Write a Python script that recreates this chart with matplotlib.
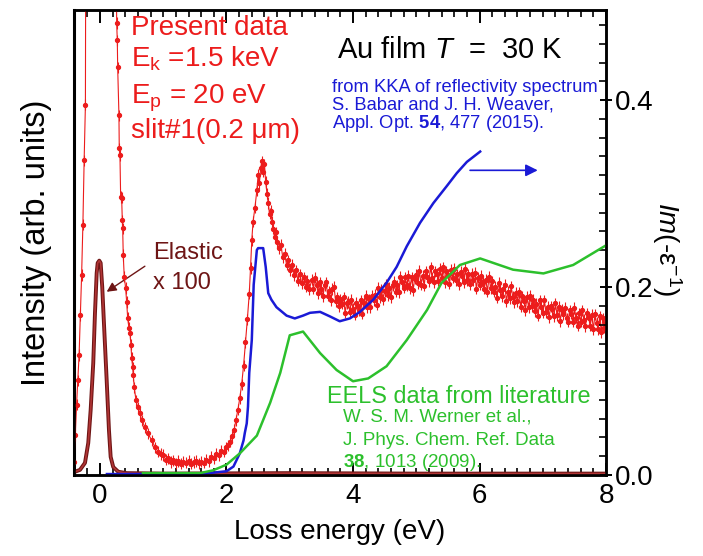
import numpy as np
import matplotlib.pyplot as plt
from matplotlib.ticker import MultipleLocator
import matplotlib.patheffects as pe

plt.rcParams['font.family'] = 'Liberation Sans'
plt.rcParams['mathtext.fontset'] = 'custom'
plt.rcParams['mathtext.rm'] = 'Liberation Sans'
plt.rcParams['mathtext.it'] = 'Liberation Sans:italic'
plt.rcParams['mathtext.bf'] = 'Liberation Sans:bold'

# ---- present data (left axis, arb. units) ----
# rising edge of the (off scale) zero-loss peak
red_e_edge = [-0.41, -0.39, -0.37, -0.35, -0.33, -0.31, -0.29, -0.27, -0.25, -0.23]
red_v_edge = [0.028, 0.086, 0.151, 0.204, 0.258, 0.344, 0.430, 0.538, 0.677, 0.796]
# top of zero-loss peak, off scale
red_e_top = [-0.21, -0.17, -0.12, -0.06, 0.0, 0.06, 0.12, 0.17, 0.21, 0.245]
red_v_top = [2.2, 6.0, 18.0, 36.0, 42.0, 36.0, 18.0, 6.0, 2.5, 1.5]
# falling tail
red_e_tail = [0.264, 0.274, 0.280, 0.300, 0.305, 0.316, 0.327, 0.343, 0.353, 0.359,
              0.368, 0.384, 0.406, 0.422, 0.438, 0.458, 0.474, 0.490, 0.501, 0.517,
              0.526, 0.542, 0.569, 0.596, 0.632, 0.659, 0.711, 0.754, 0.817, 0.870]
red_v_tail = [0.972, 0.935, 0.877, 0.774, 0.703, 0.688, 0.598, 0.596, 0.548, 0.531,
              0.473, 0.426, 0.402, 0.372, 0.338, 0.316, 0.305, 0.280, 0.252, 0.232,
              0.215, 0.189, 0.161, 0.146, 0.133, 0.118, 0.103, 0.090, 0.075, 0.060]
# valley
red_e_valley = [0.92, 0.96, 1.00, 1.04, 1.08, 1.12, 1.16, 1.20, 1.24, 1.28, 1.32, 1.36,
                1.40, 1.44, 1.48, 1.52, 1.56, 1.60, 1.64, 1.68, 1.72, 1.76, 1.80, 1.84,
                1.88, 1.92, 1.96, 2.00]
red_v_valley = [0.050, 0.045, 0.043, 0.033, 0.036, 0.028, 0.032, 0.025, 0.030, 0.024,
                0.029, 0.026, 0.031, 0.024, 0.028, 0.030, 0.025, 0.029, 0.026, 0.033,
                0.030, 0.039, 0.036, 0.045, 0.043, 0.052, 0.050, 0.060]
# plasmon peak
red_e_peak = [2.03, 2.06, 2.09, 2.12, 2.15, 2.18, 2.21, 2.24, 2.27, 2.30, 2.33, 2.36,
              2.38, 2.40, 2.42, 2.45, 2.48, 2.50, 2.52, 2.54, 2.56, 2.58, 2.60, 2.62,
              2.64, 2.66, 2.68, 2.70, 2.72, 2.74, 2.76, 2.78, 2.80, 2.83, 2.86, 2.89,
              2.92, 2.95, 2.98, 3.01, 3.04, 3.07, 3.10, 3.13, 3.16, 3.19, 3.22, 3.25,
              3.28, 3.31]
red_v_peak = [0.064, 0.072, 0.083, 0.097, 0.118, 0.140, 0.165, 0.195, 0.235, 0.285,
              0.335, 0.390, 0.445, 0.505, 0.545, 0.575, 0.612, 0.645, 0.628, 0.660,
              0.675, 0.652, 0.668, 0.630, 0.605, 0.585, 0.562, 0.568, 0.545, 0.530,
              0.512, 0.522, 0.500, 0.488, 0.495, 0.468, 0.476, 0.452, 0.462, 0.441,
              0.452, 0.430, 0.440, 0.418, 0.432, 0.412, 0.425, 0.405, 0.418, 0.400]
# broad region up to 8 eV
red_e_high = [
    3.350, 3.375, 3.400, 3.425, 3.450, 3.475, 3.500, 3.525, 3.550, 3.575,
    3.600, 3.625, 3.650, 3.675, 3.700, 3.725, 3.750, 3.775, 3.800, 3.825,
    3.850, 3.875, 3.900, 3.925, 3.950, 3.975, 4.000, 4.025, 4.050, 4.075,
    4.100, 4.125, 4.150, 4.175, 4.200, 4.225, 4.250, 4.275, 4.300, 4.325,
    4.350, 4.375, 4.400, 4.425, 4.450, 4.475, 4.500, 4.525, 4.550, 4.575,
    4.600, 4.625, 4.650, 4.675, 4.700, 4.725, 4.750, 4.775, 4.800, 4.825,
    4.850, 4.875, 4.900, 4.925, 4.950, 4.975, 5.000, 5.025, 5.050, 5.075,
    5.100, 5.125, 5.150, 5.175, 5.200, 5.225, 5.250, 5.275, 5.300, 5.325,
    5.350, 5.375, 5.400, 5.425, 5.450, 5.475, 5.500, 5.525, 5.550, 5.575,
    5.600, 5.625, 5.650, 5.675, 5.700, 5.725, 5.750, 5.775, 5.800, 5.825,
    5.850, 5.875, 5.900, 5.925, 5.950, 5.975, 6.000, 6.025, 6.050, 6.075,
    6.100, 6.125, 6.150, 6.175, 6.200, 6.225, 6.250, 6.275, 6.300, 6.325,
    6.350, 6.375, 6.400, 6.425, 6.450, 6.475, 6.500, 6.525, 6.550, 6.575,
    6.600, 6.625, 6.650, 6.675, 6.700, 6.725, 6.750, 6.775, 6.800, 6.825,
    6.850, 6.875, 6.900, 6.925, 6.950, 6.975, 7.000, 7.025, 7.050, 7.075,
    7.100, 7.125, 7.150, 7.175, 7.200, 7.225, 7.250, 7.275, 7.300, 7.325,
    7.350, 7.375, 7.400, 7.425, 7.450, 7.475, 7.500, 7.525, 7.550, 7.575,
    7.600, 7.625, 7.650, 7.675, 7.700, 7.725, 7.750, 7.775, 7.800, 7.825,
    7.850, 7.875, 7.900, 7.925, 7.950, 7.975, 8.000]
red_v_high = [
    0.420, 0.401, 0.424, 0.409, 0.391, 0.414, 0.400, 0.384, 0.408, 0.414,
    0.386, 0.395, 0.376, 0.400, 0.405, 0.374, 0.382, 0.363, 0.378, 0.368,
    0.382, 0.349, 0.369, 0.372, 0.351, 0.377, 0.357, 0.345, 0.370, 0.363,
    0.355, 0.376, 0.347, 0.370, 0.385, 0.361, 0.378, 0.361, 0.386, 0.376,
    0.387, 0.366, 0.402, 0.382, 0.398, 0.378, 0.395, 0.410, 0.387, 0.403,
    0.382, 0.408, 0.415, 0.394, 0.408, 0.393, 0.426, 0.416, 0.403, 0.425,
    0.408, 0.429, 0.402, 0.425, 0.398, 0.422, 0.430, 0.413, 0.439, 0.409,
    0.428, 0.407, 0.438, 0.426, 0.417, 0.447, 0.424, 0.414, 0.438, 0.433,
    0.418, 0.443, 0.424, 0.447, 0.415, 0.438, 0.431, 0.411, 0.441, 0.424,
    0.444, 0.419, 0.432, 0.410, 0.437, 0.427, 0.414, 0.444, 0.419, 0.432,
    0.410, 0.433, 0.419, 0.435, 0.401, 0.424, 0.409, 0.428, 0.416, 0.401,
    0.420, 0.394, 0.426, 0.402, 0.417, 0.394, 0.405, 0.381, 0.413, 0.398,
    0.384, 0.401, 0.409, 0.374, 0.394, 0.380, 0.406, 0.383, 0.371, 0.392,
    0.374, 0.393, 0.362, 0.384, 0.375, 0.355, 0.383, 0.361, 0.386, 0.363,
    0.377, 0.352, 0.368, 0.343, 0.376, 0.362, 0.349, 0.376, 0.350, 0.362,
    0.339, 0.363, 0.356, 0.341, 0.369, 0.344, 0.362, 0.331, 0.355, 0.346,
    0.360, 0.337, 0.330, 0.354, 0.347, 0.330, 0.359, 0.338, 0.321, 0.348,
    0.330, 0.354, 0.334, 0.320, 0.348, 0.338, 0.321, 0.344, 0.313, 0.346,
    0.327, 0.314, 0.341, 0.307, 0.337, 0.317, 0.330]
red_err = 0.012

# elastic peak x 100 (left axis)
el_e = [-0.41, -0.395, -0.316, -0.237, -0.185, -0.147, -0.106, -0.079, -0.052, -0.036,
        -0.011, 0.011, 0.036, 0.068, 0.106, 0.142, 0.169, 0.210, 0.289, 0.422, 1.0,
        3.0, 5.0, 8.0]
el_v = [0.005, 0.007, 0.011, 0.026, 0.069, 0.140, 0.241, 0.348, 0.434, 0.456,
        0.461, 0.456, 0.404, 0.312, 0.204, 0.097, 0.039, 0.017, 0.007, 0.004, 0.003,
        0.004, 0.003, 0.003]

# KKA of reflectivity, Babar & Weaver (right axis)
kka_e = [0.11, 1.58, 2.00, 2.11, 2.16, 2.21, 2.27, 2.29, 2.32, 2.34, 2.36, 2.40, 2.43,
         2.48, 2.50, 2.58, 2.62, 2.66, 2.71, 2.79, 2.95, 3.08, 3.21, 3.32, 3.48, 3.64,
         3.79, 3.95, 4.11, 4.32, 4.53, 4.69, 4.85, 5.06, 5.27, 5.48, 5.64, 5.80, 6.01]
kka_v = [0.001, 0.001, 0.004, 0.009, 0.016, 0.023, 0.037, 0.045, 0.055, 0.073, 0.109,
         0.144, 0.203, 0.240, 0.242, 0.242, 0.222, 0.194, 0.187, 0.179, 0.170, 0.167,
         0.170, 0.173, 0.174, 0.169, 0.164, 0.167, 0.174, 0.187, 0.205, 0.222, 0.244,
         0.269, 0.290, 0.308, 0.322, 0.334, 0.345]

# EELS data from literature, Werner et al. (right axis)
lit_e = [0.68, 1.58, 1.79, 2.00, 2.21, 2.48, 2.69, 2.85, 3.00, 3.21, 3.48, 3.74, 4.00,
         4.24, 4.53, 4.85, 5.17, 5.40, 5.69, 6.01, 6.53, 7.01, 7.48, 8.00]
lit_v = [0.002, 0.002, 0.005, 0.011, 0.023, 0.042, 0.077, 0.109, 0.149, 0.153, 0.130,
         0.112, 0.100, 0.103, 0.116, 0.144, 0.176, 0.205, 0.224, 0.231, 0.219, 0.215,
         0.224, 0.245]

red_e = np.concatenate([red_e_edge, red_e_top, red_e_tail, red_e_valley, red_e_peak, red_e_high])
red_v = np.concatenate([red_v_edge, red_v_top, red_v_tail, red_v_valley, red_v_peak, red_v_high])

RED = '#ec1c1c'
BROWN = '#6e1515'
BLUE = '#1a1ad6'
GREEN = '#2cc02c'

fig = plt.figure(figsize=(7.03, 5.56), dpi=100)
ax = fig.add_axes([0.1053, 0.1457, 0.7568, 0.8363])
ax2 = ax.twinx()

ax.errorbar(red_e, red_v, yerr=red_err, fmt='o-', color=RED, ms=2.8, lw=0.8,
            elinewidth=0.8, capsize=0, zorder=3)
ax.plot(el_e, el_v, color='#b03535', lw=1.2, zorder=4,
        path_effects=[pe.Stroke(linewidth=2.8, foreground=BROWN), pe.Normal()])

ax2.plot(kka_e, kka_v, color=BLUE, lw=1.8)
ax2.plot(lit_e, lit_v, color=GREEN, lw=1.8)

ax.set_xlim(-0.41, 8.0)
ax.set_ylim(0, 1.0)
ax2.set_ylim(0, 0.496)

# ticks
ax.set_yticks([])
ax.xaxis.set_major_locator(MultipleLocator(2))
ax.xaxis.set_minor_locator(MultipleLocator(0.2))
ax.tick_params(axis='x', which='both', direction='in', top=True, bottom=True,
               labelsize=20, pad=6)
ax.tick_params(axis='x', which='major', length=9, width=1.4)
ax.tick_params(axis='x', which='minor', length=5, width=1.2)
ax2.yaxis.set_major_locator(MultipleLocator(0.2))
ax2.yaxis.set_minor_locator(MultipleLocator(0.02))
ax2.yaxis.set_major_formatter(plt.FormatStrFormatter('%.1f'))
ax2.tick_params(axis='y', which='major', direction='inout', length=9, width=1.4,
                labelsize=20, pad=2)
ax2.tick_params(axis='y', which='minor', direction='in', length=5, width=1.2)

for a in (ax, ax2):
    for s in a.spines.values():
        s.set_linewidth(1.8)
ax.spines['left'].set_linewidth(2.2)

ax.set_xlabel('Loss energy (eV)', fontsize=20, labelpad=7)
ax.set_ylabel('Intensity (arb. units)', fontsize=23.5, labelpad=16)
fig.text(0.948, 0.552, r'$\mathit{Im}$(-ε$^{-1}$)', fontsize=20, rotation=-90,
         ha='center', va='center')

# annotations
tr = ax.transAxes
ax.text(0.108, 0.946, 'Present data', color=RED, fontsize=20, transform=tr)
ax.text(0.108, 0.878, r'E$_\mathrm{k}$ =1.5 keV', color=RED, fontsize=20, transform=tr)
ax.text(0.108, 0.799, r'E$_\mathrm{p}$ = 20 eV', color=RED, fontsize=20, transform=tr)
ax.text(0.108, 0.724, 'slit#1(0.2 μm)', color=RED, fontsize=20, transform=tr)

ax.text(0.494, 0.896, r'Au film $T$  =  30 K', color='black', fontsize=21, transform=tr)

ax.text(0.484, 0.824, 'from KKA of reflectivity spectrum', color=BLUE, fontsize=13.2,
        transform=tr)
ax.text(0.484, 0.785, 'S. Babar and J. H. Weaver,', color=BLUE, fontsize=13.2, transform=tr)
ax.text(0.484, 0.746, r'Appl. Opt. $\mathbf{54}$, 477 (2015).', color=BLUE, fontsize=13.2,
        transform=tr)

ax.text(0.475, 0.154, 'EELS data from literature', color=GREEN, fontsize=16.8, transform=tr)
ax.text(0.506, 0.115, 'W. S. M. Werner et al.,', color=GREEN, fontsize=13.5, transform=tr)
ax.text(0.506, 0.0645, 'J. Phys. Chem. Ref. Data', color=GREEN, fontsize=13.5, transform=tr)
ax.text(0.506, 0.018, r'$\mathbf{38}$, 1013 (2009).', color=GREEN, fontsize=13.5, transform=tr)

ax.text(0.148, 0.464, 'Elastic', color=BROWN, fontsize=17, transform=tr)
ax.text(0.148, 0.401, 'x 100', color=BROWN, fontsize=17, transform=tr)
ax.annotate('', xy=(0.106, 0.394), xytext=(0.71, 0.449),
            arrowprops=dict(arrowstyle='-|>', color=BROWN, lw=1.0,
                            mutation_scale=14, shrinkA=0, shrinkB=0))
ax2.annotate('', xy=(6.92, 0.325), xytext=(5.85, 0.325),
             arrowprops=dict(arrowstyle='-|>', color=BLUE, lw=1.2,
                             mutation_scale=18, shrinkA=0, shrinkB=0))

fig.savefig('out.png', dpi=100)
